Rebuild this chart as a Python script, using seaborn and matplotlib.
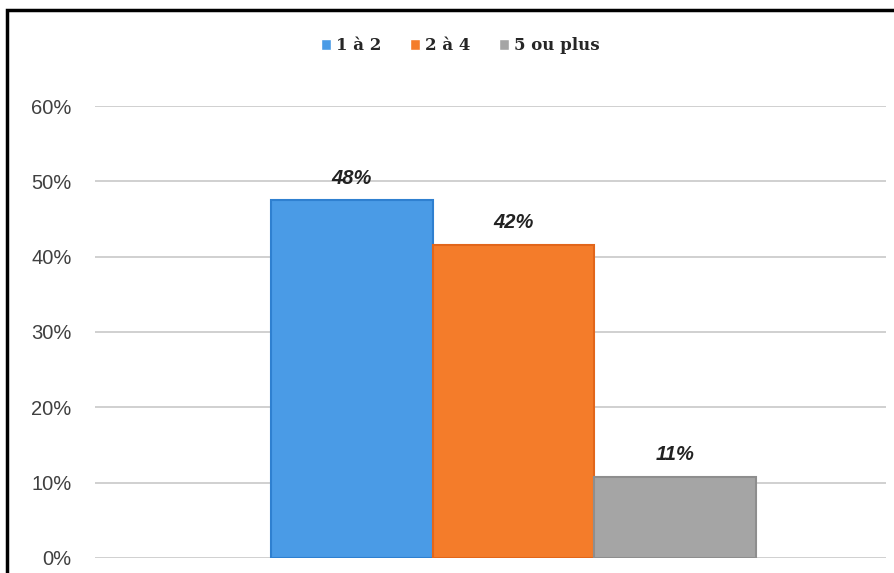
import matplotlib
matplotlib.use('Agg')
import matplotlib.pyplot as plt
import seaborn as sns
import pandas as pd
from matplotlib.patches import Rectangle

# données
categories = ['1 à 2', '2 à 4', '5 ou plus']
valeurs = [47.5, 41.6, 10.8]
etiquettes = ['48%', '42%', '11%']
couleurs = ['#4a9be6', '#f47c2a', '#a5a5a5']
bords = ['#2f80d0', '#e2661a', '#8e8e8e']
yticks = [0, 10, 20, 30, 40, 50, 60]

df = pd.DataFrame({'groupe': [''] * len(categories),
                   'categorie': categories,
                   'pct': valeurs})

sns.set_style('white')
fig = plt.figure(figsize=(8.94, 5.73), dpi=100)
ax = fig.add_axes([0.1063, 0.0262, 0.8847, 0.7888])

sns.barplot(data=df, x='groupe', y='pct', hue='categorie', palette=couleurs,
            width=0.6, gap=0, saturation=1, ax=ax, legend=True)

for cont, bc, lab in zip(ax.containers, bords, etiquettes):
    for p in cont.patches:
        p.set_edgecolor(bc)
        p.set_linewidth(1.5)
    ax.bar_label(cont, labels=[lab], padding=9, fontsize=14.5,
                 fontweight='bold', fontstyle='italic', color='#222222',
                 family='Liberation Sans')

ax.set_xlim(-0.518, 0.461)
ax.set_ylim(0, 60)
ax.set_yticks(yticks)
ax.set_yticklabels([f'{t}%' for t in yticks], family='Liberation Sans',
                   fontsize=14.5, color='#404040')
ax.tick_params(axis='y', length=0, pad=17)
ax.set_xticks([])
ax.set_xlabel('')
ax.set_ylabel('')
ax.yaxis.grid(True, color='#c8c8c8', linewidth=1.2)
ax.set_axisbelow(True)
sns.despine(ax=ax, left=True, bottom=True)

handles, labels = ax.get_legend_handles_labels()
ax.legend(handles, labels, loc='center', bbox_to_anchor=(0.515, 0.92),
          bbox_transform=fig.transFigure, ncol=3, frameon=False,
          handlelength=0.6, handleheight=0.6, handletextpad=0.3,
          columnspacing=1.7,
          prop={'family': 'DejaVu Serif', 'weight': 'bold', 'size': 12})

# cadre noir autour de la figure (coupé à droite et en bas)
fig.patches.append(Rectangle((7 / 894, -0.1), 1.2, 1.1 - 10 / 573,
                             transform=fig.transFigure, fill=False,
                             edgecolor='black', linewidth=2.5, zorder=10))

fig.savefig('out.png', dpi=100)
